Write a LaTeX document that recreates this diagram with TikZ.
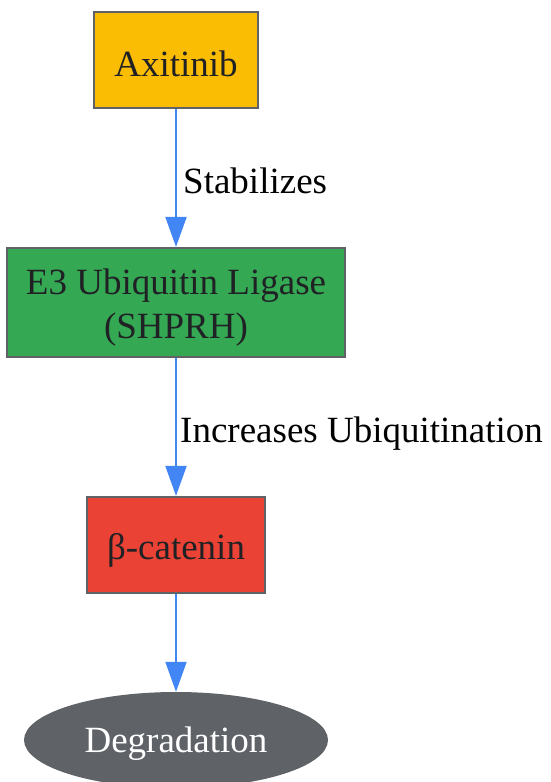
\documentclass[tikz,border=0pt]{standalone}
\usepackage{fontspec}
\setmainfont{Liberation Serif}
\usetikzlibrary{arrows.meta,shapes.geometric}
\definecolor{gorange}{HTML}{FBBC04}
\definecolor{ggreen}{HTML}{34A853}
\definecolor{gred}{HTML}{EA4335}
\definecolor{ggray}{HTML}{5F6368}
\definecolor{gblue}{HTML}{4285F4}
\definecolor{gtext}{HTML}{202124}
\tikzset{
  boxnode/.style={draw=ggray, line width=2.2pt, rectangle, inner sep=0pt},
  ovalnode/.style={ellipse, fill=ggray, draw=none, inner sep=0pt},
  txt/.style={inner sep=0pt, text=gtext, font=\fontsize{37}{44}\selectfont, align=center},
  conn/.style={draw=gblue, line width=2pt, -{Triangle[length=30pt,width=21pt]}},
  lbl/.style={font=\fontsize{37}{44}\selectfont, text=black, anchor=west, inner sep=0pt}
}
\begin{document}
\begin{tikzpicture}[x=1pt,y=-1pt]
\useasboundingbox (0,0) rectangle (550,782);
\node[boxnode, fill=gorange, minimum width=164pt, minimum height=96pt] (ax) at (176,60) {};
\node[txt] (axt) at ([yshift=-4pt]ax.center) {Axitinib};
\node[boxnode, fill=ggreen, minimum width=338pt, minimum height=109pt] (e3) at (176,302.5) {};
\node[txt] (e3t) at ([yshift=-5pt]e3.center) {E3 Ubiquitin Ligase\\(SHPRH)};
\node[boxnode, fill=gred, minimum width=178pt, minimum height=96pt] (bc) at (176,545) {};
\node[txt] (bct) at ([yshift=-5pt]bc.center) {β-catenin};
\node[ovalnode, minimum width=304pt, minimum height=96pt] (deg) at (176,740) {};
\node[txt, text=white] (degt) at ([yshift=-4pt]deg.center) {Degradation};
\draw[conn] (ax.south) -- (e3.north);
\node[lbl] (lab1) at (183,181) {Stabilizes};
\draw[conn] (e3.south) -- (bc.north);
\node[lbl] (lab2) at (180,434) {Increases Ubiquitination};
\draw[conn] (bc.south) -- (deg.north);
\end{tikzpicture}
\end{document}
